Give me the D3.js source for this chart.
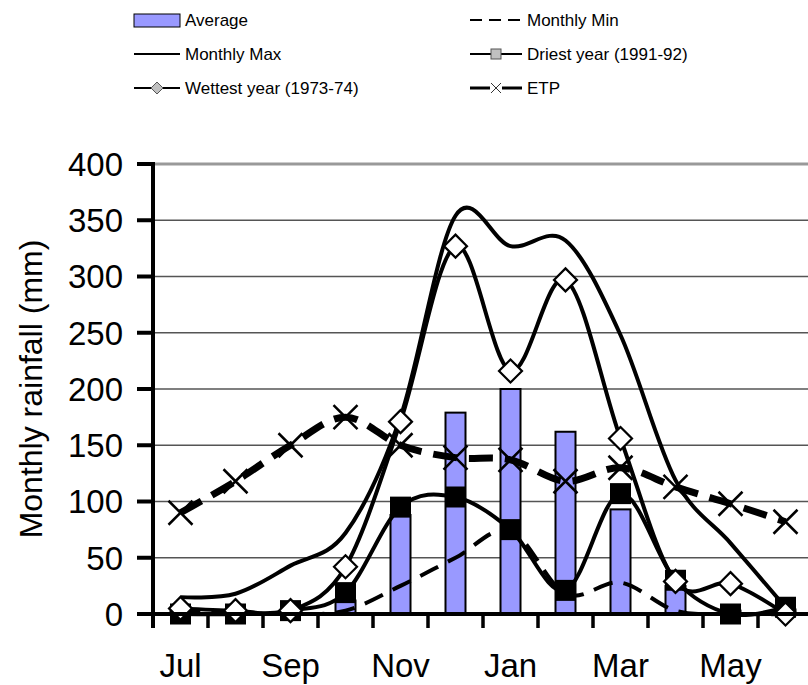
<!DOCTYPE html>
<html>
<head>
<meta charset="utf-8">
<script src="https://cdn.jsdelivr.net/npm/d3@7"></script>
<style>
  html, body { margin: 0; padding: 0; background: #fff; }
  svg { display: block; font-family: "Liberation Sans", Arial, sans-serif; }
</style>
</head>
<body>
<svg id="chart" width="808" height="685"></svg>
<script>
// Hydrological year, July to June
const months = ["Jul", "Aug", "Sep", "Oct", "Nov", "Dec", "Jan", "Feb", "Mar", "Apr", "May", "Jun"];
const monthLabels = ["Jul", "Sep", "Nov", "Jan", "Mar", "May"];
const yTicks = [0, 50, 100, 150, 200, 250, 300, 350, 400];

// Monthly rainfall (mm)
const average    = [2, 1, 3, 12, 88, 179, 200, 162, 93, 25, 3, 4];
const monthlyMin = [4, 1, 0, 3, 25, 50, 74, 18, 28, 3, 0, 0];
const monthlyMax = [15, 18, 43, 72, 175, 354, 327, 332, 248, 119, 63, 6];
const driest     = [0, 0, 3, 19, 95, 104, 75, 21, 107, 30, 0, 6];
const wettest    = [5, 3, 3, 42, 171, 327, 216, 297, 156, 29, 27, 0];
const etp        = [90, 118, 150, 175, 150, 139, 137, 118, 130, 113, 98, 82];

const svg = d3.select("#chart");
const plotLeft = 153, plotRight = 813, plotTop = 164, plotBottom = 614;

const x = d3.scaleBand().domain(months).range([plotLeft, plotRight]).padding(0);
const y = d3.scaleLinear().domain([0, 400]).range([plotBottom, plotTop]);
const cx = m => x(m) + x.bandwidth() / 2;

// Horizontal gridlines
svg.append("g").selectAll("line")
  .data(yTicks.filter(v => v > 0))
  .join("line")
  .attr("x1", plotLeft).attr("x2", 808)
  .attr("y1", d => y(d)).attr("y2", d => y(d))
  .attr("stroke", d => d === 400 ? "#999" : "#555")
  .attr("stroke-width", d => d === 400 ? 3 : 1.5);

// Average bars
const barW = 20;
svg.append("g").selectAll("rect")
  .data(months.map((m, i) => ({ m, v: average[i] })))
  .join("rect")
  .attr("x", d => cx(d.m) - barW / 2)
  .attr("y", d => y(d.v))
  .attr("width", barW)
  .attr("height", d => plotBottom - y(d.v))
  .attr("fill", "#9999ff")
  .attr("stroke", "#000")
  .attr("stroke-width", 2);

const line = d3.line()
  .x(d => cx(d.m))
  .y(d => y(d.v))
  .curve(d3.curveCardinal.tension(0));
const pts = arr => months.map((m, i) => ({ m, v: arr[i] }));

const lines = svg.append("g").attr("fill", "none").attr("stroke", "#000");
lines.append("path").attr("d", line(pts(monthlyMin)))
  .attr("stroke-width", 4).attr("stroke-dasharray", "20,11");
lines.append("path").attr("d", line(pts(monthlyMax)))
  .attr("stroke-width", 4);
lines.append("path").attr("d", line(pts(driest)))
  .attr("stroke-width", 4);
lines.append("path").attr("d", line(pts(wettest)))
  .attr("stroke-width", 4);
lines.append("path").attr("d", line(pts(etp)))
  .attr("stroke-width", 7).attr("stroke-dasharray", "24,12");

// Driest year markers: black squares
svg.append("g").selectAll("rect")
  .data(pts(driest))
  .join("rect")
  .attr("x", d => cx(d.m) - 10.5)
  .attr("y", d => y(d.v) - 10.5)
  .attr("width", 21).attr("height", 21)
  .attr("fill", "#000");

// Wettest year markers: white diamonds
const dia = 11.5;
svg.append("g").selectAll("path")
  .data(pts(wettest))
  .join("path")
  .attr("d", d => {
    const px = cx(d.m), py = y(d.v);
    return `M${px},${py - dia}L${px + dia},${py}L${px},${py + dia}L${px - dia},${py}Z`;
  })
  .attr("fill", "#fff").attr("stroke", "#000").attr("stroke-width", 2.2);

// ETP markers: crosses
const xs = 12;
svg.append("g").selectAll("path")
  .data(pts(etp))
  .join("path")
  .attr("d", d => {
    const px = cx(d.m), py = y(d.v);
    return `M${px - xs},${py - xs}L${px + xs},${py + xs}M${px + xs},${py - xs}L${px - xs},${py + xs}`;
  })
  .attr("fill", "none").attr("stroke", "#000").attr("stroke-width", 2.5);

// Y axis
const yAxis = svg.append("g");
yAxis.append("line").attr("x1", plotLeft).attr("x2", plotLeft)
  .attr("y1", plotTop - 2).attr("y2", plotBottom + 14)
  .attr("stroke", "#000").attr("stroke-width", 4);
yAxis.selectAll("line.tick").data(yTicks).join("line").attr("class", "tick")
  .attr("x1", 137).attr("x2", plotLeft)
  .attr("y1", d => y(d)).attr("y2", d => y(d))
  .attr("stroke", "#000").attr("stroke-width", 4);
yAxis.selectAll("text").data(yTicks).join("text")
  .attr("x", 123).attr("y", d => y(d))
  .attr("dy", "0.36em")
  .attr("text-anchor", "end")
  .attr("font-size", 33)
  .text(d => d);

svg.append("text")
  .attr("transform", `translate(42,${(plotTop + plotBottom) / 2}) rotate(-90)`)
  .attr("text-anchor", "middle")
  .attr("font-size", 32)
  .text("Monthly rainfall (mm)");

// X axis
const xAxis = svg.append("g");
xAxis.append("line").attr("x1", plotLeft - 2).attr("x2", 808)
  .attr("y1", plotBottom).attr("y2", plotBottom)
  .attr("stroke", "#000").attr("stroke-width", 4);
xAxis.selectAll("line.tick").data(d3.range(months.length + 1)).join("line").attr("class", "tick")
  .attr("x1", i => plotLeft + i * x.bandwidth()).attr("x2", i => plotLeft + i * x.bandwidth())
  .attr("y1", plotBottom).attr("y2", plotBottom + 14)
  .attr("stroke", "#000").attr("stroke-width", 3.5);
xAxis.selectAll("text").data(monthLabels).join("text")
  .attr("x", d => cx(d)).attr("y", 677)
  .attr("text-anchor", "middle")
  .attr("font-size", 33)
  .text(d => d);

// Legend
const legend = svg.append("g").attr("font-size", 17);
const rowY = [20, 54, 88];
// Left column
legend.append("rect").attr("x", 134).attr("y", 14).attr("width", 46).attr("height", 13)
  .attr("fill", "#9999ff").attr("stroke", "#000").attr("stroke-width", 1);
legend.append("text").attr("x", 185).attr("y", rowY[0] + 6).text("Average");
legend.append("line").attr("x1", 134).attr("x2", 180).attr("y1", rowY[1]).attr("y2", rowY[1])
  .attr("stroke", "#000").attr("stroke-width", 2);
legend.append("text").attr("x", 185).attr("y", rowY[1] + 6).text("Monthly Max");
legend.append("line").attr("x1", 134).attr("x2", 180).attr("y1", rowY[2]).attr("y2", rowY[2])
  .attr("stroke", "#000").attr("stroke-width", 2);
legend.append("path")
  .attr("d", `M157,${rowY[2] - 6}L163,${rowY[2]}L157,${rowY[2] + 6}L151,${rowY[2]}Z`)
  .attr("fill", "#c0c0c0").attr("stroke", "#555").attr("stroke-width", 1);
legend.append("text").attr("x", 185).attr("y", rowY[2] + 6).text("Wettest year (1973-74)");
// Right column
legend.append("line").attr("x1", 470).attr("x2", 522).attr("y1", rowY[0]).attr("y2", rowY[0])
  .attr("stroke", "#000").attr("stroke-width", 2).attr("stroke-dasharray", "12,7");
legend.append("text").attr("x", 527).attr("y", rowY[0] + 6).text("Monthly Min");
legend.append("line").attr("x1", 470).attr("x2", 522).attr("y1", rowY[1]).attr("y2", rowY[1])
  .attr("stroke", "#000").attr("stroke-width", 2);
legend.append("rect").attr("x", 491).attr("y", rowY[1] - 5).attr("width", 10).attr("height", 10)
  .attr("fill", "#c0c0c0").attr("stroke", "#555").attr("stroke-width", 1);
legend.append("text").attr("x", 527).attr("y", rowY[1] + 6).text("Driest year (1991-92)");
legend.append("line").attr("x1", 470).attr("x2", 522).attr("y1", rowY[2]).attr("y2", rowY[2])
  .attr("stroke", "#000").attr("stroke-width", 3);
legend.append("rect").attr("x", 490).attr("y", rowY[2] - 2).attr("width", 12).attr("height", 4)
  .attr("fill", "#fff");
legend.append("path")
  .attr("d", `M491,${rowY[2] - 5}L501,${rowY[2] + 5}M501,${rowY[2] - 5}L491,${rowY[2] + 5}`)
  .attr("stroke", "#333").attr("stroke-width", 1).attr("fill", "none");
legend.append("text").attr("x", 527).attr("y", rowY[2] + 6).text("ETP");
</script>
</body>
</html>
